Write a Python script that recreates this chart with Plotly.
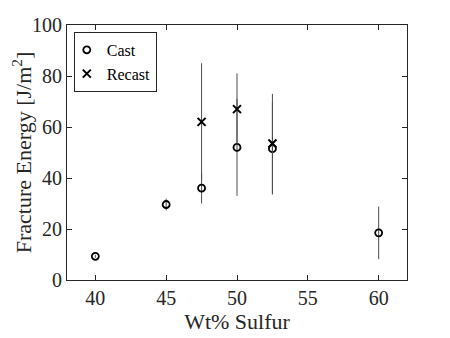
import plotly.graph_objects as go

# Dados
wt_sulfur_cast = [40, 45, 47.5, 50, 52.5, 60]
energy_cast = [9.3, 29.6, 36.0, 52.0, 51.5, 18.5]
err_cast = [0.6, 2.3, 6.0, 19.0, 18.0, 10.3]

wt_sulfur_recast = [47.5, 50, 52.5]
energy_recast = [62.0, 67.0, 53.5]
err_recast = [23.0, 14.0, 19.5]

x_ticks = [40, 45, 50, 55, 60]
y_ticks = [0, 20, 40, 60, 80, 100]

FONT = "'Liberation Serif', 'Times New Roman', serif"
FRAME = "#262626"

fig = go.Figure()

fig.add_trace(go.Scatter(
    x=wt_sulfur_cast,
    y=energy_cast,
    mode="markers",
    name="Cast",
    marker=dict(symbol="circle-open", size=7, color="black", line=dict(width=1.8, color="black")),
    error_y=dict(type="data", array=err_cast, visible=True, width=0, thickness=1, color="#4d4d4d"),
))

fig.add_trace(go.Scatter(
    x=wt_sulfur_recast,
    y=energy_recast,
    mode="markers",
    name="Recast",
    marker=dict(symbol="x-thin-open", size=8, color="black", line=dict(width=2, color="black")),
    error_y=dict(type="data", array=err_recast, visible=True, width=0, thickness=1, color="#4d4d4d"),
))

axis_common = dict(
    showgrid=False,
    zeroline=False,
    showline=True,
    linecolor=FRAME,
    linewidth=1,
    mirror="ticks",
    ticks="inside",
    ticklen=5,
    tickcolor=FRAME,
    automargin=False,
    tickfont=dict(family=FONT, size=20, color=FRAME),
)

# a página tem 8px de margem no body -> figura um pouco menor
fig.update_layout(
    width=442,
    height=330,
    margin=dict(l=59, r=43, t=17, b=58),
    paper_bgcolor="white",
    plot_bgcolor="white",
    font=dict(family=FONT, color=FRAME),
    xaxis=dict(
        range=[38, 62],
        tickvals=x_ticks,
        title=dict(text="Wt% Sulfur", font=dict(family=FONT, size=22, color=FRAME), standoff=0),
        **axis_common,
    ),
    yaxis=dict(
        range=[0, 100],
        tickvals=y_ticks,
        title=dict(text="Fracture Energy [J/m<sup>2</sup>]", font=dict(family=FONT, size=22, color=FRAME), standoff=9),
        **axis_common,
    ),
    legend=dict(
        x=0.02,
        y=0.973,
        xanchor="left",
        yanchor="top",
        bgcolor="white",
        bordercolor=FRAME,
        borderwidth=1,
        font=dict(family=FONT, size=16, color="black"),
        itemwidth=30,
        indentation=-8,
        tracegroupgap=0,
    ),
)

fig.write_html("out.html")
